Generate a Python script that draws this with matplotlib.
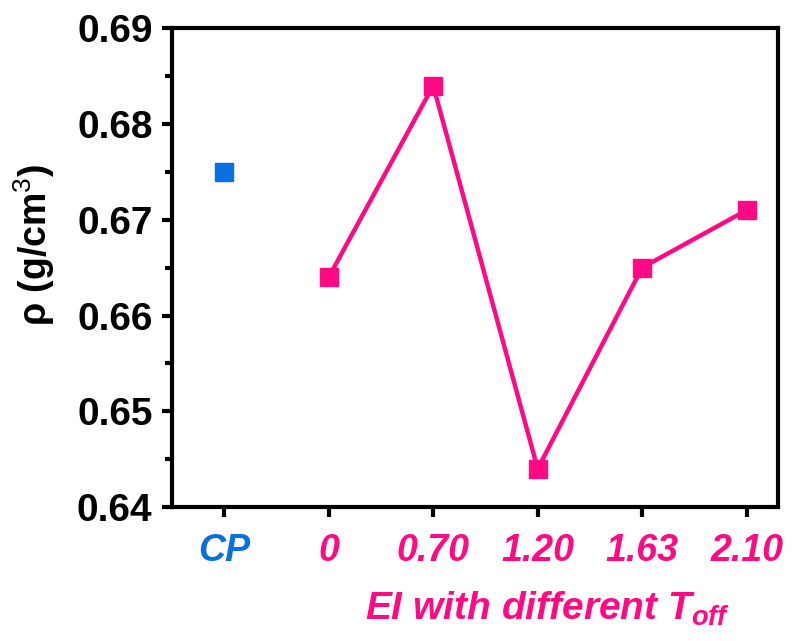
import numpy as np
import matplotlib
matplotlib.use('Agg')
import matplotlib.pyplot as plt
from matplotlib.ticker import MultipleLocator

# data
categories = ['CP', '0', '0.70', '1.20', '1.63', '2.10']
cpValue = [0.675]
eiValues = [0.664, 0.684, 0.644, 0.665, 0.671]

pink = '#FF0A84'
blue = '#0A6FE0'

fam = ['Liberation Sans', 'DejaVu Sans']
plt.rcParams['mathtext.fontset'] = 'custom'
plt.rcParams['mathtext.it'] = 'Liberation Sans:italic:bold'
plt.rcParams['mathtext.rm'] = 'Liberation Sans'

fig = plt.figure(figsize=(8.01, 6.41), dpi=100)
ax = fig.add_axes([0.2147, 0.209, 0.7566, 0.747])

xs = np.arange(len(categories))
ax.plot(xs[:1], cpValue, 's', color=blue, markersize=13)
ax.plot(xs[1:], eiValues, '-s', color=pink, lw=3.2, markersize=13)

ax.set_xlim(-0.5, 5.3)
ax.set_ylim(0.64, 0.69)
ax.set_xticks(xs)
ax.set_xticklabels(categories, family=fam, fontsize=27, fontweight='bold', fontstyle='italic')
for lbl, c in zip(ax.get_xticklabels(), [blue] + [pink] * 5):
    lbl.set_color(c)

ax.yaxis.set_minor_locator(MultipleLocator(0.005))
ax.set_yticks(np.arange(0.64, 0.6901, 0.01))
ax.set_yticklabels(['%.2f' % v for v in np.arange(0.64, 0.6901, 0.01)], family=fam, fontsize=28, fontweight='bold')

ax.tick_params(axis='both', which='major', direction='out', length=7, width=3, pad=7)
ax.tick_params(axis='y', which='minor', direction='out', length=5, width=3)
ax.tick_params(axis='x', pad=12)
for s in ax.spines.values():
    s.set_linewidth(3)

ax.set_ylabel(r'ρ (g/cm$^3$)', family=fam, fontsize=27, fontweight='bold')
ax.yaxis.label.set_math_fontfamily('custom')
ax.yaxis.set_label_coords(-0.19, 0.547)
ax.set_xlabel(r'EI with different $T_{off}$', family=fam, fontsize=28, fontweight='bold',
              fontstyle='italic', color=pink)
ax.xaxis.set_label_coords(0.62, -0.172)

fig.savefig('out.png', dpi=100)
